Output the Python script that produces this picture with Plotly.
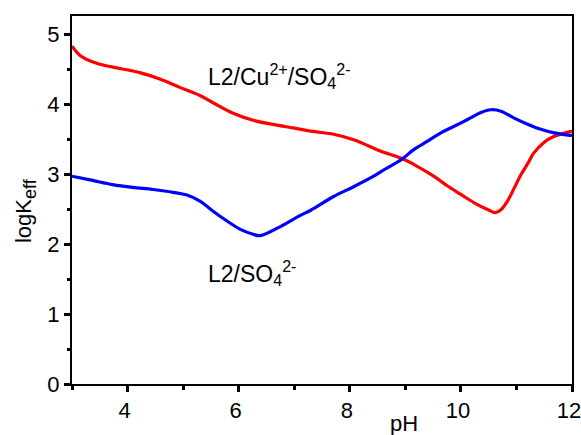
import plotly.graph_objects as go

# Data
ph_cu = [3.00, 3.14, 3.32, 3.50, 3.86, 4.22, 4.58, 4.94, 5.31, 5.54, 5.90, 6.26, 6.62, 6.98,
         7.34, 7.71, 8.07, 8.32, 8.55, 8.95, 9.15, 9.51, 9.76, 10.00, 10.24, 10.49, 10.62,
         10.72, 10.85, 10.96, 11.08, 11.21, 11.31, 11.49, 11.68, 11.93, 12.00]
logk_cu = [4.83, 4.70, 4.62, 4.57, 4.51, 4.45, 4.36, 4.24, 4.12, 4.02, 3.87, 3.77, 3.71, 3.66,
           3.61, 3.57, 3.49, 3.41, 3.33, 3.22, 3.14, 2.97, 2.83, 2.71, 2.59, 2.49, 2.45,
           2.49, 2.63, 2.80, 2.99, 3.16, 3.30, 3.45, 3.54, 3.60, 3.61]

ph_so4 = [3.00, 3.37, 3.73, 4.09, 4.46, 4.82, 5.07, 5.31, 5.54, 5.79, 6.03, 6.26, 6.39, 6.75,
          7.11, 7.29, 7.71, 8.07, 8.43, 8.55, 8.95, 9.15, 9.40, 9.64, 9.87, 10.12, 10.36,
          10.54, 10.72, 10.96, 11.21, 11.44, 11.68, 12.00]
logk_so4 = [2.97, 2.91, 2.85, 2.81, 2.78, 2.74, 2.70, 2.61, 2.47, 2.33, 2.21, 2.14, 2.12, 2.25,
            2.41, 2.48, 2.68, 2.82, 2.97, 3.03, 3.22, 3.35, 3.47, 3.59, 3.68, 3.78, 3.88,
            3.92, 3.90, 3.80, 3.71, 3.64, 3.59, 3.55]

label_cu = "L2/Cu<sup>2+</sup>/SO<sub>4</sub><sup>2-</sup>"
label_so4 = "L2/SO<sub>4</sub><sup>2-</sup>"
title_y = "logK<sub><span style='font-size:18px'>eff</span></sub>"
title_x = "pH"

FONT = "Arial, Liberation Sans, sans-serif"

fig = go.Figure()
fig.add_trace(go.Scatter(x=ph_cu, y=logk_cu, mode="lines",
                         line=dict(color="#FF0000", width=3.2, shape="spline", smoothing=1.0),
                         showlegend=False))
fig.add_trace(go.Scatter(x=ph_so4, y=logk_so4, mode="lines",
                         line=dict(color="#0000FF", width=3.2, shape="spline", smoothing=1.0),
                         showlegend=False))

axis_common = dict(showgrid=False, zeroline=False, showline=True, linecolor="black",
                   linewidth=2, mirror=True, ticks="outside", ticklen=6, tickwidth=2.5,
                   tickcolor="black", automargin=False, ticklabeloverflow="allow",
                   tickfont=dict(family=FONT, size=22, color="black"))

fig.update_xaxes(range=[3, 12], tick0=4, dtick=2, ticklabelshift=-3,
                 minor=dict(dtick=1, tick0=3, ticks="outside", ticklen=3.5, tickwidth=2.5,
                            tickcolor="black"),
                 **axis_common)
fig.update_yaxes(range=[0, 5.26], tick0=0, dtick=1,
                 minor=dict(dtick=0.5, tick0=0, ticks="outside", ticklen=3.5, tickwidth=2.5,
                            tickcolor="black"),
                 **axis_common)

fig.add_annotation(x=5.41, y=4.40, xref="x", yref="y", text=label_cu, showarrow=False,
                   xanchor="left", yanchor="middle",
                   font=dict(family=FONT, size=23, color="black"))
fig.add_annotation(x=5.41, y=1.58, xref="x", yref="y", text=label_so4, showarrow=False,
                   xanchor="left", yanchor="middle",
                   font=dict(family=FONT, size=23, color="black"))
# axis titles
fig.add_annotation(x=0, y=0.47, xref="paper", yref="paper", xshift=-47,
                   text=title_y, textangle=-90, showarrow=False,
                   xanchor="center", yanchor="middle",
                   font=dict(family=FONT, size=22, color="black"))
fig.add_annotation(x=0.664, y=0, xref="paper", yref="paper", yshift=-39,
                   text=title_x, showarrow=False, xanchor="center", yanchor="middle",
                   font=dict(family=FONT, size=22, color="black"))

fig.update_layout(width=581, height=435, margin=dict(l=72, r=9, t=16, b=51),
                  plot_bgcolor="white", paper_bgcolor="white")

# remove the default 8px page margin so the figure fills the window exactly
fig.write_html("out.html", config={"displayModeBar": False},
               post_script="document.body.style.margin='0';document.body.style.overflow='hidden';")
